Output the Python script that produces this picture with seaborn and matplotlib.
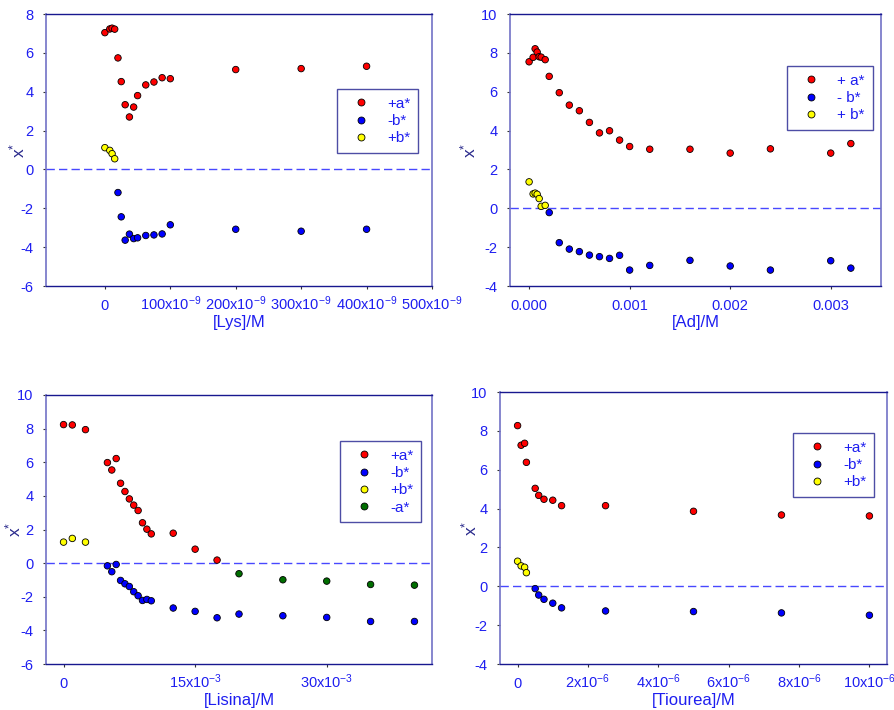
import numpy as np
import pandas as pd
import matplotlib
matplotlib.use("Agg")
import matplotlib.pyplot as plt
import seaborn as sns

# ---- data ----
# Lys panel (x in 1e-9 M)
lys_a_x = [0, 7.5, 11, 15, 20, 25, 31, 37.5, 44, 50, 62.5, 75, 87.5, 100, 200, 300, 400]
lys_a_y = [7.04, 7.23, 7.27, 7.22, 5.74, 4.52, 3.33, 2.70, 3.21, 3.80, 4.35, 4.50, 4.72, 4.67, 5.14, 5.19, 5.31]
lys_b_x = [20, 25, 31, 37.5, 44, 50, 62.5, 75, 87.5, 100, 200, 300, 400]
lys_b_y = [-1.19, -2.44, -3.64, -3.33, -3.56, -3.52, -3.40, -3.37, -3.32, -2.85, -3.08, -3.18, -3.08]
lys_pb_x = [0, 7.5, 11, 15]
lys_pb_y = [1.12, 0.98, 0.81, 0.55]

# Ad panel (x in 1e-3 M)
ad_a_x = [0, 0.04, 0.06, 0.08, 0.10, 0.12, 0.16, 0.2, 0.3, 0.4, 0.5, 0.6, 0.7, 0.8, 0.9, 1.0, 1.2, 1.6, 2.0, 2.4, 3.0, 3.2]
ad_a_y = [7.54, 7.77, 8.21, 8.04, 7.80, 7.78, 7.65, 6.79, 5.95, 5.31, 5.02, 4.42, 3.88, 3.99, 3.51, 3.18, 3.04, 3.04, 2.84, 3.06, 2.84, 3.33]
ad_b_x = [0.2, 0.3, 0.4, 0.5, 0.6, 0.7, 0.8, 0.9, 1.0, 1.2, 1.6, 2.0, 2.4, 3.0, 3.2]
ad_b_y = [-0.22, -1.77, -2.10, -2.23, -2.41, -2.49, -2.58, -2.42, -3.18, -2.94, -2.68, -2.97, -3.18, -2.70, -3.08]
ad_pb_x = [0, 0.04, 0.06, 0.08, 0.10, 0.12, 0.16]
ad_pb_y = [1.36, 0.74, 0.78, 0.72, 0.50, 0.10, 0.15]

# Lisina panel (x in 1e-3 M)
lis_a_x = [0, 1, 2.5, 5, 5.5, 6, 6.5, 7, 7.5, 8, 8.5, 9, 9.5, 10, 12.5, 15, 17.5]
lis_a_y = [8.24, 8.22, 7.94, 5.98, 5.54, 6.22, 4.75, 4.26, 3.82, 3.45, 3.13, 2.40, 2.02, 1.74, 1.78, 0.83, 0.18]
lis_b_x = [5, 5.5, 6, 6.5, 7, 7.5, 8, 8.5, 9, 9.5, 10, 12.5, 15, 17.5, 20, 25, 30, 35, 40]
lis_b_y = [-0.16, -0.51, -0.08, -1.03, -1.23, -1.39, -1.70, -1.94, -2.22, -2.16, -2.24, -2.67, -2.87, -3.25, -3.03, -3.13, -3.23, -3.47, -3.47]
lis_pb_x = [0, 1, 2.5]
lis_pb_y = [1.25, 1.47, 1.25]
lis_na_x = [20, 25, 30, 35, 40]
lis_na_y = [-0.63, -0.99, -1.07, -1.27, -1.31]

# Tiourea panel (x in 1e-6 M)
tio_a_x = [0, 0.1, 0.2, 0.25, 0.5, 0.6, 0.75, 1.0, 1.25, 2.5, 5, 7.5, 10]
tio_a_y = [8.27, 7.26, 7.36, 6.38, 5.04, 4.68, 4.48, 4.43, 4.15, 4.15, 3.86, 3.67, 3.62]
tio_b_x = [0.5, 0.6, 0.75, 1.0, 1.25, 2.5, 5, 7.5, 10]
tio_b_y = [-0.12, -0.45, -0.67, -0.87, -1.11, -1.27, -1.30, -1.37, -1.49]
tio_pb_x = [0, 0.1, 0.2, 0.25]
tio_pb_y = [1.29, 1.05, 0.98, 0.70]

RED, BLUE, YEL, GRN = "#ff0000", "#0000ff", "#ffff00", "#006e00"
TXT = "#1e1ef0"
NAVY = "#2a2a8c"

sns.set_style("white")
plt.rcParams["font.family"] = ["Liberation Sans", "DejaVu Sans"]
plt.rcParams["mathtext.fontset"] = "custom"
plt.rcParams["mathtext.rm"] = "Liberation Sans"
plt.rcParams["mathtext.it"] = "Liberation Sans"
plt.rcParams["axes.unicode_minus"] = False


def make_df(series):
    parts = []
    for name, xs, ys, scale in series:
        parts.append(pd.DataFrame({"x": np.array(xs) * scale, "y": ys, "serie": name}))
    return pd.concat(parts, ignore_index=True)


def draw(ax, df, palette, xlim, ylim, xticks, xlabels, yticks, xlabel, leg_pos, ylab_x):
    sns.scatterplot(data=df, x="x", y="y", hue="serie", palette=palette, ax=ax,
                    s=22, edgecolor="black", linewidth=0.6, zorder=3)
    ax.axhline(0, color="#4848ff", linestyle=(0, (6, 3)), linewidth=1.0, zorder=1)
    ax.set_xlim(*xlim)
    ax.set_ylim(*ylim)
    ax.set_xticks(xticks)
    ax.set_xticklabels(xlabels)
    ax.set_yticks(yticks)
    ax.tick_params(axis="both", direction="out", length=2.5, width=0.8, color="#333333",
                   labelcolor=TXT, labelsize=10.5, bottom=True, left=True)
    ax.tick_params(axis="x", pad=14.8)
    ax.tick_params(axis="y", pad=6.5)
    for lbl in ax.get_xticklabels():
        lbl.set_va("baseline")
    ax.set_xlabel(xlabel, color=TXT, fontsize=12)
    ax.xaxis.label.set_va("center")
    ax.xaxis.set_label_coords(0.5, -0.134)
    ax.set_ylabel(r"x$^{*}$", color=NAVY, fontsize=12.5)
    ax.yaxis.label.set_va("center")
    ax.yaxis.set_label_coords(ylab_x, 0.5)
    for side in ["top", "bottom"]:
        ax.spines[side].set_color("#18188f")
        ax.spines[side].set_linewidth(1.0)
    for side in ["left", "right"]:
        ax.spines[side].set_color("#7272c6")
        ax.spines[side].set_linewidth(1.2)
    handles, labels = ax.get_legend_handles_labels()
    for h in handles:
        h.set_markersize(5)
        h.set_markeredgewidth(0.6)
        h.set_markeredgecolor("black")
    leg = ax.legend(handles, labels, loc="upper left", bbox_to_anchor=leg_pos,
                    bbox_transform=ax.figure.transFigure, frameon=True, fancybox=False,
                    handlelength=2.2, handletextpad=0.6, borderpad=0.5,
                    labelspacing=0.22, fontsize=11, borderaxespad=0)
    leg.get_frame().set_edgecolor("#20208f")
    leg.get_frame().set_linewidth(1.0)
    for t in leg.get_texts():
        t.set_color(TXT)


fig = plt.figure(figsize=(8.95, 7.10), dpi=100)
W, H = 895, 710


def axes_px(l, t, r, b):
    return fig.add_axes([l / W, (H - b) / H, (r - l) / W, (b - t) / H])


ax1 = axes_px(46, 14, 432, 286)
ax2 = axes_px(510, 14, 881, 286)
ax3 = axes_px(46, 395, 432, 664)
ax4 = axes_px(500, 392, 887, 664)

df1 = make_df([("+a*", lys_a_x, lys_a_y, 1e-9), ("-b*", lys_b_x, lys_b_y, 1e-9),
               ("+b*", lys_pb_x, lys_pb_y, 1e-9)])
draw(ax1, df1, [RED, BLUE, YEL], (-90e-9, 500e-9), (-6, 8),
     [0, 100e-9, 200e-9, 300e-9, 400e-9, 500e-9],
     ["0"] + [f"{v}x10$^{{-9}}$" for v in (100, 200, 300, 400, 500)],
     range(-6, 9, 2), "[Lys]/M", (337 / W, 1 - 89 / H), -0.075)

df2 = make_df([("+ a*", ad_a_x, ad_a_y, 1e-3), ("- b*", ad_b_x, ad_b_y, 1e-3),
               ("+ b*", ad_pb_x, ad_pb_y, 1e-3)])
draw(ax2, df2, [RED, BLUE, YEL], (-0.00019, 0.0035), (-4, 10),
     [0, 0.001, 0.002, 0.003], ["0.000", "0.001", "0.002", "0.003"],
     range(-4, 11, 2), "[Ad]/M", (787 / W, 1 - 66 / H), -0.113)

df3 = make_df([("+a*", lis_a_x, lis_a_y, 1e-3), ("-b*", lis_b_x, lis_b_y, 1e-3),
               ("+b*", lis_pb_x, lis_pb_y, 1e-3), ("-a*", lis_na_x, lis_na_y, 1e-3)])
draw(ax3, df3, [RED, BLUE, YEL, GRN], (-2e-3, 42e-3), (-6, 10),
     [0, 15e-3, 30e-3], ["0", "15x10$^{-3}$", "30x10$^{-3}$"],
     range(-6, 11, 2), "[Lisina]/M", (340 / W, 1 - 441 / H), -0.085)

df4 = make_df([("+a*", tio_a_x, tio_a_y, 1e-6), ("-b*", tio_b_x, tio_b_y, 1e-6),
               ("+b*", tio_pb_x, tio_pb_y, 1e-6)])
draw(ax4, df4, [RED, BLUE, YEL], (-0.5e-6, 10.5e-6), (-4, 10),
     [0, 2e-6, 4e-6, 6e-6, 8e-6, 10e-6],
     ["0"] + [f"{v}x10$^{{-6}}$" for v in (2, 4, 6, 8, 10)],
     range(-4, 11, 2), "[Tiourea]/M", (793 / W, 1 - 433 / H), -0.08)

fig.savefig("out.png", dpi=100, facecolor="white")
